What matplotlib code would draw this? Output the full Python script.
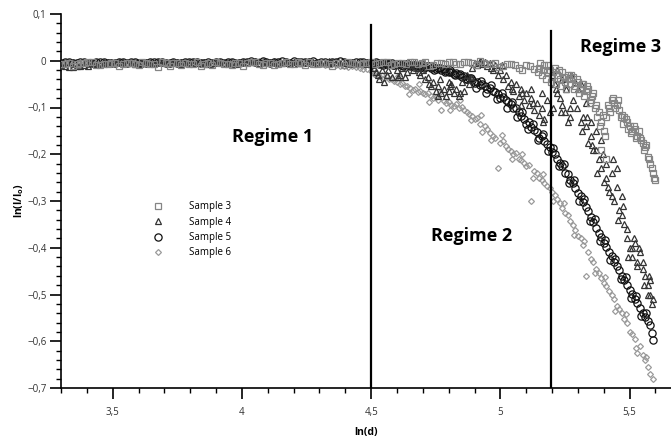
import matplotlib
matplotlib.use("Agg")
import matplotlib.pyplot as plt
from matplotlib.ticker import MultipleLocator, FuncFormatter

# ---------------- data ----------------
x_flat_a = [3.30, 3.33, 3.36, 3.39, 3.42, 3.45, 3.48, 3.51, 3.54, 3.57,
            3.60, 3.63, 3.66, 3.69, 3.72, 3.75, 3.78, 3.81, 3.84, 3.87,
            3.90, 3.93, 3.96, 3.99, 4.02, 4.05, 4.08, 4.11, 4.14, 4.17,
            4.20, 4.23, 4.26, 4.29, 4.32, 4.35, 4.38, 4.41, 4.44, 4.47]
x_flat_b = [3.315, 3.345, 3.375, 3.405, 3.435, 3.465, 3.495, 3.525, 3.555, 3.585,
            3.615, 3.645, 3.675, 3.705, 3.735, 3.765, 3.795, 3.825, 3.855, 3.885,
            3.915, 3.945, 3.975, 4.005, 4.035, 4.065, 4.095, 4.125, 4.155, 4.185,
            4.215, 4.245, 4.275, 4.305, 4.335, 4.365, 4.395, 4.425, 4.455, 4.485]
x_tail = [4.50, 4.51, 4.52, 4.53, 4.54, 4.55, 4.56, 4.57, 4.58, 4.59,
          4.60, 4.61, 4.62, 4.63, 4.64, 4.65, 4.66, 4.67, 4.68, 4.69,
          4.70, 4.71, 4.72, 4.73, 4.74, 4.75, 4.76, 4.77, 4.78, 4.79,
          4.80, 4.81, 4.82, 4.83, 4.84, 4.85, 4.86, 4.87, 4.88, 4.89,
          4.90, 4.91, 4.92, 4.93, 4.94, 4.95, 4.96, 4.97, 4.98, 4.99,
          5.00, 5.01, 5.02, 5.03, 5.04, 5.05, 5.06, 5.07, 5.08, 5.09,
          5.10, 5.11, 5.12, 5.13, 5.14, 5.15, 5.16, 5.17, 5.18, 5.19,
          5.20, 5.21, 5.22, 5.23, 5.24, 5.25, 5.26, 5.27, 5.28, 5.29,
          5.30, 5.31, 5.32, 5.33, 5.34, 5.35, 5.36, 5.37, 5.38, 5.39,
          5.40, 5.41, 5.42, 5.43, 5.44, 5.45, 5.46, 5.47, 5.48, 5.49,
          5.50, 5.51, 5.52, 5.53, 5.54, 5.55, 5.56, 5.57, 5.58, 5.59]

# Sample 3 (squares)
s3_flat = [-0.006, -0.004, -0.008, -0.005, -0.003, -0.010, -0.006, -0.004, -0.007, -0.005,
           -0.009, -0.004, -0.006, -0.003, -0.011, -0.005, -0.004, -0.007, -0.012, -0.005,
           -0.003, -0.006, -0.010, -0.004, -0.005, -0.002, -0.009, -0.004, -0.006, -0.003,
           -0.008, -0.005, -0.002, -0.007, -0.004, -0.012, -0.005, -0.003, -0.006, -0.004]
s3_flat_b = [-0.008, -0.012, -0.005, -0.003, -0.009, -0.006, -0.004, -0.011, -0.005, -0.007,
             -0.003, -0.008, -0.013, -0.005, -0.004, -0.009, -0.006, -0.003, -0.007, -0.010,
             -0.004, -0.008, -0.005, -0.012, -0.003, -0.006, -0.004, -0.010, -0.005, -0.007,
             -0.003, -0.009, -0.006, -0.004, -0.008, -0.005, -0.010, -0.004, -0.007, -0.005]
s3_mid_x = [4.50, 4.53, 4.56, 4.59, 4.62, 4.65, 4.68, 4.71, 4.74, 4.77, 4.80,
            4.83, 4.86, 4.89, 4.92, 4.95, 4.98, 5.01, 5.04, 5.07, 5.10, 5.13]
s3_mid_y = [-0.002, -0.005, -0.003, -0.008, -0.004, -0.002, -0.006, -0.003, -0.010, -0.004, -0.002,
            -0.007, -0.003, -0.005, -0.001, -0.008, -0.004, -0.012, -0.006, -0.015, -0.009, -0.018]
s3_mid2_x = [4.515, 4.545, 4.575, 4.605, 4.635, 4.665, 4.695, 4.725, 4.755, 4.785, 4.815,
             4.845, 4.875, 4.905, 4.935, 4.965, 4.995, 5.025, 5.055, 5.085, 5.115, 5.145]
s3_mid2_y = [-0.006, -0.003, -0.010, -0.004, -0.007, -0.003, -0.005, -0.012, -0.004, -0.008, -0.003,
             -0.006, -0.002, -0.009, -0.004, -0.006, -0.014, -0.008, -0.010, -0.020, -0.012, -0.025]
s3_end_x = [5.15, 5.16, 5.17, 5.18, 5.19, 5.20, 5.21, 5.22, 5.23, 5.24,
            5.25, 5.26, 5.27, 5.28, 5.29, 5.30, 5.31, 5.32, 5.33, 5.34,
            5.35, 5.36, 5.37, 5.38, 5.39, 5.39, 5.40, 5.41, 5.41, 5.42,
            5.43, 5.44, 5.45, 5.46, 5.47, 5.48, 5.49, 5.50, 5.51, 5.52,
            5.53, 5.54, 5.55, 5.56, 5.57, 5.58, 5.59, 5.60]
s3_end_y = [-0.015, -0.030, -0.010, -0.025, -0.020, -0.035, -0.015, -0.030, -0.040, -0.025,
            -0.045, -0.030, -0.050, -0.035, -0.055, -0.045, -0.060, -0.050, -0.065, -0.060,
            -0.085, -0.070, -0.095, -0.110, -0.130, -0.190, -0.150, -0.120, -0.210, -0.100,
            -0.085, -0.090, -0.095, -0.105, -0.115, -0.120, -0.130, -0.140, -0.150, -0.145,
            -0.160, -0.165, -0.175, -0.185, -0.205, -0.220, -0.240, -0.255]
s3_end2_x = [5.155, 5.165, 5.175, 5.185, 5.195, 5.205, 5.215, 5.225, 5.235, 5.245,
             5.255, 5.265, 5.275, 5.285, 5.295, 5.305, 5.315, 5.325, 5.335, 5.345,
             5.355, 5.365, 5.375, 5.385, 5.395, 5.405, 5.415, 5.425, 5.435, 5.445,
             5.455, 5.465, 5.475, 5.485, 5.495, 5.505, 5.515, 5.525, 5.535, 5.545,
             5.555, 5.565, 5.575, 5.585, 5.595]
s3_end2_y = [-0.005, -0.020, -0.040, -0.010, -0.045, -0.025, -0.050, -0.020, -0.055, -0.035,
             -0.060, -0.040, -0.030, -0.060, -0.040, -0.070, -0.050, -0.075, -0.055, -0.090,
             -0.075, -0.100, -0.120, -0.140, -0.115, -0.160, -0.095, -0.110, -0.080, -0.100,
             -0.085, -0.120, -0.135, -0.125, -0.145, -0.155, -0.140, -0.165, -0.150, -0.170,
             -0.190, -0.180, -0.210, -0.230, -0.250]

# Sample 4 (triangles)
s4_flat = [-0.012, -0.013, -0.011, -0.012, -0.006, -0.003, -0.005, -0.002, -0.004, -0.006,
           -0.003, -0.005, -0.002, -0.004, -0.003, -0.006, -0.002, -0.004, -0.003, -0.005,
           -0.002, -0.004, -0.006, -0.003, -0.002, -0.005, -0.003, -0.001, -0.004, -0.002,
           -0.005, -0.003, -0.002, -0.004, -0.001, -0.003, -0.005, -0.002, -0.004, -0.003]
s4_flat_a = [-0.010, -0.014, -0.012, -0.009, -0.004, -0.006, -0.003, -0.005, -0.002, -0.004,
             -0.006, -0.003, -0.005, -0.002, -0.004, -0.003, -0.005, -0.002, -0.004, -0.006,
             -0.003, -0.005, -0.002, -0.004, -0.003, -0.001, -0.004, -0.002, -0.005, -0.003,
             -0.002, -0.004, -0.001, -0.003, -0.005, -0.002, -0.004, -0.003, -0.006, -0.008]
s4_tail = [-0.005, -0.015, -0.025, -0.040, -0.020, -0.045, -0.030, -0.010, -0.035, -0.005,
           -0.020, -0.030, -0.015, -0.035, -0.025, -0.010, -0.020, -0.005, -0.015, -0.030,
           -0.020, -0.040, -0.035, -0.055, -0.045, -0.065, -0.055, -0.070, -0.060, -0.075,
           -0.065, -0.050, -0.070, -0.060, -0.075, -0.045, -0.065, -0.030, -0.050, -0.015,
           -0.005, -0.010, 0.000, -0.008, -0.003, -0.012, -0.005, -0.020, -0.010, -0.030,
           -0.020, -0.040, -0.030, -0.055, -0.045, -0.065, -0.050, -0.075, -0.060, -0.085,
           -0.070, -0.095, -0.080, -0.105, -0.090, -0.115, -0.100, -0.125, -0.085, -0.110,
           -0.030, -0.050, -0.020, -0.080, -0.095, -0.110, -0.130, -0.100, -0.085, -0.045,
           -0.060, -0.050, -0.120, -0.140, -0.175, -0.160, -0.190, -0.150, -0.210, -0.230,
           -0.260, -0.220, -0.280, -0.240, -0.300, -0.270, -0.320, -0.290, -0.350, -0.380,
           -0.400, -0.420, -0.390, -0.430, -0.410, -0.445, -0.460, -0.480, -0.500, -0.510]
s4_extra_x = [4.76, 4.80, 5.08, 5.12, 5.16, 5.22, 5.24, 5.27, 5.31, 5.33, 5.35, 5.37,
              5.39, 5.41, 5.43, 5.45, 5.47, 5.49, 5.51, 5.53, 5.55, 5.57, 5.58,
              4.525, 4.565, 4.605, 4.645, 4.685, 4.725, 4.765, 4.805, 4.845, 4.885,
              4.925, 4.965, 5.005, 5.045, 5.085, 5.125, 5.165, 5.205, 5.215, 5.235,
              5.255, 5.275, 5.295, 5.315, 5.335, 5.355, 5.375, 5.395, 5.415, 5.435,
              5.455, 5.475, 5.495, 5.515, 5.535, 5.555, 5.575, 5.585]
s4_extra_y = [-0.075, -0.045, -0.095, -0.060, -0.070, -0.070, -0.040, -0.120, -0.130, -0.090,
              -0.130, -0.190, -0.170, -0.250, -0.290, -0.230, -0.330, -0.360, -0.400, -0.440,
              -0.430, -0.500, -0.470,
              -0.030, -0.020, -0.035, -0.005, -0.025, -0.050, -0.040, -0.055, -0.070, -0.035,
              -0.003, -0.015, -0.010, -0.060, -0.070, -0.090, -0.130, -0.100, -0.060, -0.110,
              -0.060, -0.030, -0.100, -0.150, -0.120, -0.180, -0.240, -0.200, -0.270, -0.210,
              -0.340, -0.310, -0.420, -0.380, -0.400, -0.480, -0.460, -0.520]

# Sample 5 (circles)
s5_flat = [-0.004, -0.003, -0.005, -0.002, -0.004, -0.003, -0.005, -0.004, -0.002, -0.003,
           -0.005, -0.004, -0.003, -0.002, -0.004, -0.005, -0.003, -0.002, -0.004, -0.003,
           -0.002, -0.004, -0.003, -0.005, -0.002, -0.003, -0.001, -0.004, -0.002, -0.003,
           -0.001, -0.003, -0.002, -0.004, -0.002, -0.003, -0.001, -0.004, -0.002, -0.003]
s5_flat_b = [-0.003, -0.005, -0.002, -0.004, -0.003, -0.002, -0.004, -0.003, -0.005, -0.002,
             -0.004, -0.003, -0.002, -0.005, -0.003, -0.004, -0.002, -0.003, -0.005, -0.004,
             -0.003, -0.002, -0.004, -0.003, -0.001, -0.004, -0.002, -0.003, -0.001, -0.004,
             -0.002, -0.003, -0.001, -0.002, -0.004, -0.002, -0.003, -0.005, -0.003, -0.004]
s5_tail = [-0.004, -0.006, -0.003, -0.007, -0.005, -0.004, -0.008, -0.006, -0.005, -0.009,
           -0.007, -0.006, -0.010, -0.008, -0.007, -0.011, -0.009, -0.010, -0.012, -0.011,
           -0.010, -0.013, -0.012, -0.015, -0.014, -0.017, -0.016, -0.019, -0.018, -0.022,
           -0.025, -0.024, -0.028, -0.027, -0.031, -0.035, -0.033, -0.038, -0.037, -0.042,
           -0.048, -0.046, -0.051, -0.050, -0.055, -0.060, -0.058, -0.064, -0.066, -0.071,
           -0.080, -0.078, -0.085, -0.088, -0.092, -0.102, -0.100, -0.110, -0.118, -0.125,
           -0.135, -0.132, -0.142, -0.148, -0.152, -0.165, -0.160, -0.172, -0.178, -0.185,
           -0.195, -0.200, -0.210, -0.218, -0.226, -0.240, -0.243, -0.255, -0.262, -0.272,
           -0.283, -0.290, -0.302, -0.312, -0.322, -0.335, -0.344, -0.358, -0.368, -0.378,
           -0.390, -0.398, -0.410, -0.418, -0.430, -0.440, -0.448, -0.460, -0.470, -0.480,
           -0.490, -0.498, -0.510, -0.518, -0.528, -0.540, -0.548, -0.556, -0.565, -0.597]
s5_extra_x = [4.905, 4.925, 4.945, 4.965, 4.985, 5.005, 5.025, 5.045, 5.065, 5.085,
              5.105, 5.125, 5.145, 5.165, 5.185, 5.205, 5.225, 5.245, 5.265, 5.285,
              5.305, 5.325, 5.345, 5.365, 5.385, 5.405, 5.425, 5.445, 5.465, 5.485,
              5.505, 5.525, 5.545, 5.565, 5.585,
              4.505, 4.525, 4.545, 4.565, 4.585, 4.605, 4.625, 4.645, 4.665, 4.685,
              4.705, 4.725, 4.745, 4.765, 4.785, 4.805, 4.825, 4.845, 4.865, 4.885]
s5_extra_y = [-0.059, -0.043, -0.070, -0.052, -0.082, -0.070, -0.100, -0.088, -0.120, -0.110,
              -0.146, -0.135, -0.169, -0.157, -0.193, -0.186, -0.226, -0.221, -0.262, -0.255,
              -0.299, -0.295, -0.342, -0.338, -0.385, -0.383, -0.426, -0.423, -0.467, -0.463,
              -0.507, -0.503, -0.547, -0.540, -0.582,
              -0.008, -0.004, -0.009, -0.006, -0.010, -0.007, -0.012, -0.009, -0.013, -0.010,
              -0.016, -0.012, -0.019, -0.016, -0.024, -0.020, -0.030, -0.028, -0.038, -0.036]

# Sample 6 (diamonds)
s6_flat = [-0.003, -0.002, -0.004, -0.003, -0.002, -0.004, -0.003, -0.002, -0.004, -0.003,
           -0.005, -0.003, -0.002, -0.004, -0.003, -0.002, -0.004, -0.003, -0.002, -0.004,
           -0.003, -0.002, -0.004, -0.003, -0.002, -0.001, -0.003, -0.002, -0.004, -0.003,
           -0.002, -0.004, -0.006, -0.008, -0.007, -0.010, -0.012, -0.011, -0.015, -0.018]
s6_flat_a = [-0.004, -0.003, -0.002, -0.004, -0.003, -0.005, -0.002, -0.004, -0.003, -0.002,
             -0.004, -0.003, -0.005, -0.002, -0.004, -0.003, -0.002, -0.004, -0.003, -0.005,
             -0.002, -0.004, -0.003, -0.002, -0.004, -0.002, -0.001, -0.003, -0.002, -0.004,
             -0.003, -0.005, -0.004, -0.006, -0.009, -0.008, -0.011, -0.013, -0.014, -0.017]
s6_tail = [-0.022, -0.028, -0.025, -0.032, -0.030, -0.036, -0.034, -0.040, -0.038, -0.044,
           -0.045, -0.050, -0.048, -0.055, -0.053, -0.058, -0.062, -0.060, -0.066, -0.064,
           -0.068, -0.072, -0.070, -0.076, -0.080, -0.078, -0.084, -0.105, -0.086, -0.090,
           -0.088, -0.094, -0.096, -0.092, -0.100, -0.098, -0.106, -0.110, -0.114, -0.118,
           -0.125, -0.122, -0.135, -0.152, -0.140, -0.145, -0.155, -0.160, -0.165, -0.230,
           -0.175, -0.172, -0.182, -0.188, -0.192, -0.200, -0.198, -0.210, -0.212, -0.218,
           -0.225, -0.222, -0.300, -0.235, -0.240, -0.250, -0.255, -0.262, -0.268, -0.272,
           -0.280, -0.288, -0.295, -0.305, -0.315, -0.325, -0.330, -0.342, -0.352, -0.362,
           -0.375, -0.380, -0.395, -0.460, -0.410, -0.425, -0.430, -0.445, -0.455, -0.465,
           -0.475, -0.482, -0.492, -0.500, -0.510, -0.525, -0.530, -0.540, -0.552, -0.560,
           -0.580, -0.585, -0.595, -0.625, -0.610, -0.630, -0.640, -0.655, -0.670, -0.680]
s6_extra_x = [4.605, 4.645, 4.685, 4.725, 4.765, 4.805, 4.845, 4.885, 4.925, 4.965,
              5.005, 5.045, 5.085, 5.125, 5.165, 5.205, 5.245, 5.285, 5.325, 5.365,
              5.405, 5.445, 5.485, 5.525, 5.565]
s6_extra_y = [-0.032, -0.071, -0.050, -0.088, -0.066, -0.106, -0.084, -0.127, -0.115, -0.170,
              -0.159, -0.211, -0.200, -0.250, -0.243, -0.299, -0.305, -0.372, -0.385, -0.455,
              -0.463, -0.535, -0.541, -0.615, -0.633]

regime_bounds = [4.5, 5.195]
regime_tops = [0.077, 0.064]
regime_labels = ["Regime 1", "Regime 2", "Regime 3"]
regime_label_x = [4.118, 4.889, 5.463]
regime_label_y = [-0.163, -0.375, 0.030]

xlim = (3.3, 5.66)
ylim = (-0.7, 0.1)

# ---------------- figure ----------------
plt.rcParams['font.family'] = ['Open Sans', 'DejaVu Sans']

fig = plt.figure(figsize=(6.71, 4.42), dpi=100)
W, H = 671, 442
ax = fig.add_axes([61 / W, (H - 388) / H, 610 / W, 374 / H])

common = dict(linestyle='none', markerfacecolor='none')
x6 = x_flat_b + x_flat_a + x_tail + s6_extra_x
y6 = s6_flat + s6_flat_a + s6_tail + s6_extra_y
x5 = x_flat_a + x_flat_b + x_tail + s5_extra_x
y5 = s5_flat + s5_flat_b + s5_tail + s5_extra_y
x4 = x_flat_b + x_flat_a + x_tail + s4_extra_x
y4 = s4_flat + s4_flat_a + s4_tail + s4_extra_y
x3 = x_flat_a + x_flat_b + s3_mid_x + s3_mid2_x + s3_end_x + s3_end2_x
y3 = s3_flat + s3_flat_b + s3_mid_y + s3_mid2_y + s3_end_y + s3_end2_y

ax.plot(x6, y6, marker='D', markersize=3.0, markeredgecolor='#9a9a9a',
        markeredgewidth=0.9, label='Sample 6', zorder=2, **common)
ax.plot(x5, y5, marker='o', markersize=5.2, markeredgecolor='#111111',
        markeredgewidth=0.9, label='Sample 5', zorder=3, **common)
ax.plot(x4, y4, marker='^', markersize=5.0, markeredgecolor='#333333',
        markeredgewidth=0.9, label='Sample 4', zorder=4, **common)
ax.plot(x3, y3, marker='s', markersize=5.0, markeredgecolor='#858585',
        markeredgewidth=0.9, label='Sample 3', zorder=5, **common)

for xb, top in zip(regime_bounds, regime_tops):
    ax.plot([xb, xb], [ylim[0], top], color='black', lw=1.6, zorder=6)

for lab, lx, ly in zip(regime_labels, regime_label_x, regime_label_y):
    ax.text(lx, ly, lab, ha='center', va='center', fontsize=13,
            fontweight='bold', color='black', zorder=7)

ax.set_xlim(*xlim)
ax.set_ylim(*ylim)
for s in ['top', 'right']:
    ax.spines[s].set_visible(False)
for s in ['left', 'bottom']:
    ax.spines[s].set_linewidth(1.2)
    ax.spines[s].set_color('black')

ax.xaxis.set_major_locator(MultipleLocator(0.5))
ax.xaxis.set_minor_locator(MultipleLocator(0.1))
ax.yaxis.set_major_locator(MultipleLocator(0.1))
ax.yaxis.set_minor_locator(MultipleLocator(0.02))


def fmt(v, pos):
    if abs(v) < 1e-9:
        return "0"
    s = ("%g" % round(v, 3)).replace('.', ',')
    return s.replace('-', '\u2212')


ax.xaxis.set_major_formatter(FuncFormatter(fmt))
ax.yaxis.set_major_formatter(FuncFormatter(fmt))
ax.tick_params(which='major', direction='out', length=8, width=1.2,
               labelsize=7, colors='black', labelcolor='#333333')
ax.tick_params(which='minor', direction='out', length=3.5, width=1.0, colors='black')
ax.tick_params(axis='x', which='major', pad=6)
ax.tick_params(axis='y', which='major', pad=2.5)

ax.set_xlabel('ln(d)', fontsize=7.5, fontweight='bold', labelpad=6)
ax.set_ylabel('ln(I/I$_\\mathregular{o}$)', fontsize=7.5, fontweight='bold', labelpad=1)

handles, labels = ax.get_legend_handles_labels()
order = [3, 2, 1, 0]
ax.legend([handles[i] for i in order], [labels[i] for i in order],
          loc='upper left', bbox_to_anchor=(0.13, 0.52), frameon=False,
          fontsize=7, handletextpad=2.2, labelspacing=0.45, borderpad=0.3)

fig.savefig('out.png', dpi=100)
